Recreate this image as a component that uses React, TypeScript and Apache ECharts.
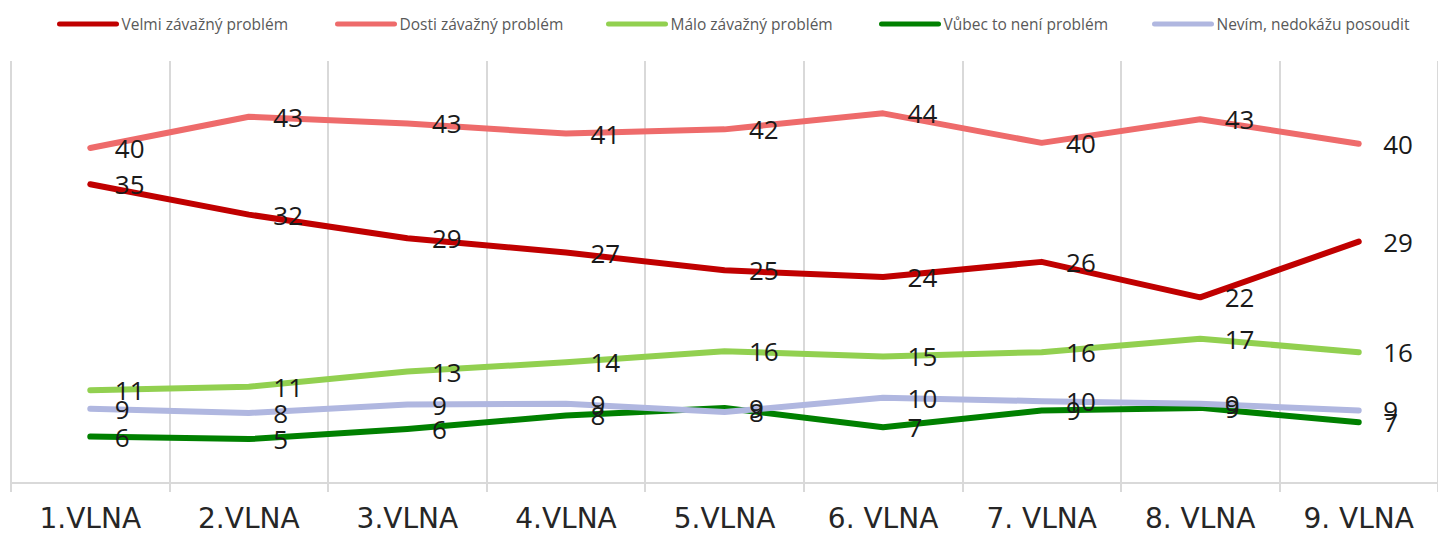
import React, { useEffect, useRef } from "react";
import * as echarts from "echarts";

const categories = ["1.VLNA", "2.VLNA", "3.VLNA", "4.VLNA", "5.VLNA", "6. VLNA", "7. VLNA", "8. VLNA", "9. VLNA"];
const seriesNames = [
  "Velmi závažný problém",
  "Dosti závažný problém",
  "Málo závažný problém",
  "Vůbec to není problém",
  "Nevím, nedokážu posoudit",
];
const velmi = [35.4, 31.8, 29.0, 27.3, 25.2, 24.4, 26.2, 22.0, 28.6];
const dosti = [39.7, 43.4, 42.6, 41.4, 41.9, 43.8, 40.3, 43.1, 40.2];
const malo = [11.0, 11.4, 13.2, 14.3, 15.6, 15.0, 15.5, 17.1, 15.5];
const vubec = [5.5, 5.2, 6.4, 8.0, 8.9, 6.6, 8.6, 8.9, 7.2];
const nevim = [8.8, 8.3, 9.3, 9.4, 8.4, 10.1, 9.7, 9.4, 8.6];

const seriesValues = [velmi, dosti, malo, vubec, nevim];
const colors = ["#C00000", "#EE6B6B", "#92D050", "#008000", "#B0B7E0"];
const legendLefts = [52, 330, 601, 874, 1147];

export default function App() {
  const ref = useRef<HTMLDivElement>(null);
  useEffect(() => {
    if (!ref.current) return;
    const chart = echarts.init(ref.current, null, { renderer: "svg" });
    const capsule = "path://M2.5,0 L59.5,0 A2.5,2.5 0 0 1 59.5,5 L2.5,5 A2.5,2.5 0 0 1 2.5,0 Z";
    chart.setOption({
      animation: false,
      backgroundColor: "#ffffff",
      legend: seriesNames.map((n, i) => ({
        data: [{ name: n, icon: capsule }],
        left: legendLefts[i],
        top: 11,
        itemWidth: 63,
        itemHeight: 5,
        itemGap: 0,
        textStyle: { fontFamily: "Open Sans", fontSize: 15.5, color: "#595959", padding: [0, 0, 0, -3] },
      })),
      grid: { left: 11, top: 61, width: 1437, height: 422 },
      xAxis: {
        type: "category",
        data: categories,
        boundaryGap: true,
        axisLine: { show: true, lineStyle: { color: "#D9D9D9", width: 2 } },
        axisTick: { show: true, length: 9, interval: 0, lineStyle: { color: "#D9D9D9", width: 2 } },
        splitLine: { show: true, interval: 0, lineStyle: { color: "#D9D9D9", width: 2 } },
        axisLabel: {
          interval: 0,
          margin: 23,
          fontFamily: "DejaVu Sans",
          fontSize: 28,
          lineHeight: 24,
          color: "#262626",
        },
      },
      yAxis: {
        type: "value",
        min: 0,
        max: 50,
        show: false,
        splitLine: { show: false },
      },
      series: seriesNames.map((n, i) => ({
        name: n,
        type: "line",
        data: seriesValues[i],
        symbol: "circle",
        symbolSize: 1,
        showSymbol: true,
        itemStyle: { color: colors[i] },
        lineStyle: { color: colors[i], width: 6, cap: "round", join: "round" },
        label: {
          show: true,
          position: "right",
          distance: 24,
          formatter: (p: any) => String(Math.round(p.value)),
          fontFamily: "Open Sans",
          fontSize: 26,
          color: "#1A1A1A",
        },
      })),
    });
    return () => chart.dispose();
  }, []);
  return (
    <div
      ref={ref}
      style={{ position: "absolute", left: 0, top: 0, width: 1438, height: 535 }}
    />
  );
}
